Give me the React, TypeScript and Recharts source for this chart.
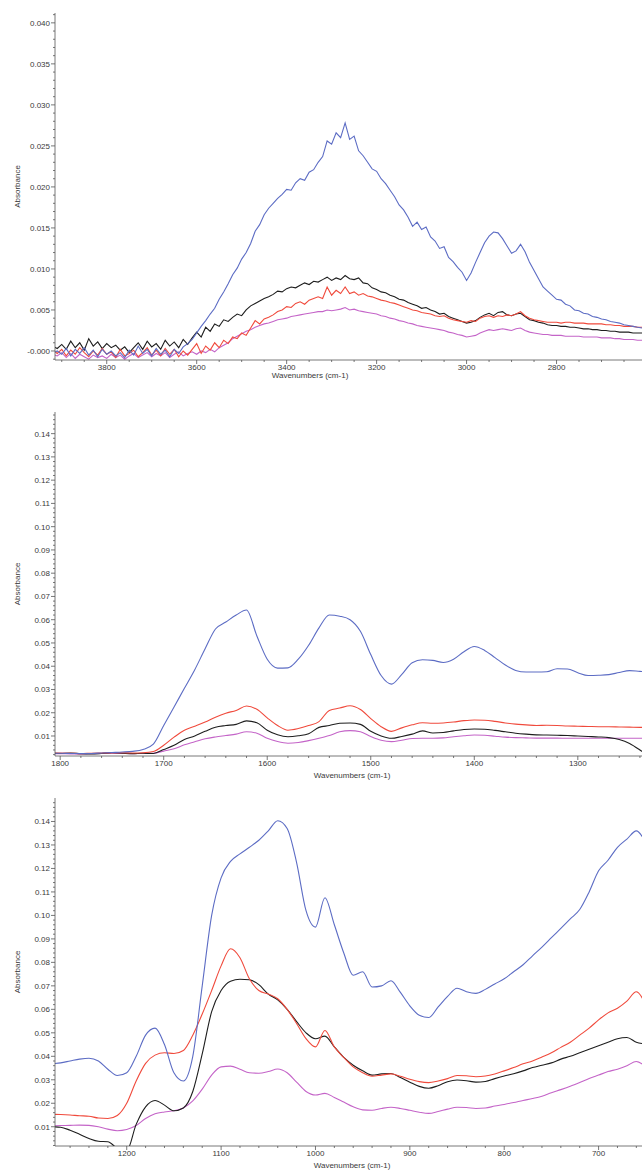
import { LineChart, Line, XAxis, YAxis } from "recharts";

// ---------- panel 1: O-H / C-H region, 3920 -> 2610 cm-1, every 10 ----------
const ohStart = 3920;
const ohStep = 10;
const ohBlue = [
  -0.0003,
  0.0000,-0.0004,0.0003,-0.0006,0.0002,-0.0003,0.0004,-0.0005,0.0001,-0.0007,
  0.0002,-0.0004,0.0000,-0.0006,-0.0002,-0.0008,0.0001,-0.0005,0.0006,-0.0003,
  0.0002,-0.0006,0.0003,-0.0004,0.0001,-0.0007,0.0002,-0.0003,0.0005,0.0009,
  0.0014,0.0022,0.0030,0.0037,0.0045,0.0052,0.0063,0.0072,0.0082,0.0093,
  0.0101,0.0112,0.0120,0.0131,0.0146,0.0154,0.0166,0.0174,0.0180,0.0186,
  0.0191,0.0197,0.0196,0.0205,0.0210,0.0208,0.0218,0.0221,0.0230,0.0237,
  0.0256,0.0252,0.0266,0.0260,0.0278,0.0258,0.0262,0.0244,0.0238,0.0230,
  0.0222,0.0219,0.0210,0.0204,0.0196,0.0188,0.0178,0.0172,0.0163,0.0152,
  0.0157,0.0148,0.0151,0.0139,0.0134,0.0125,0.0127,0.0114,0.0109,0.0102,
  0.0096,0.0086,0.0095,0.0108,0.0120,0.0132,0.0140,0.0145,0.0144,0.0137,
  0.0128,0.0119,0.0122,0.0130,0.0121,0.0108,0.0098,0.0088,0.0078,0.0073,
  0.0068,0.0063,0.0062,0.0057,0.0055,0.0050,0.0049,0.0046,0.0045,0.0042,
  0.0041,0.0039,0.0038,0.0036,0.0035,0.0034,0.0032,0.0031,0.0030,0.0029,
  0.0028,
];
const ohBlack = [
  0.0006,
  0.0003,0.0008,0.0002,0.0012,0.0004,0.0010,0.0001,0.0015,0.0006,0.0011,
  0.0003,0.0009,0.0004,0.0007,0.0001,0.0005,-0.0002,0.0004,0.0010,0.0002,
  0.0012,0.0005,0.0009,0.0002,0.0013,0.0006,0.0011,0.0004,0.0014,0.0008,
  0.0016,0.0023,0.0017,0.0029,0.0024,0.0033,0.0030,0.0038,0.0036,0.0041,
  0.0045,0.0043,0.0050,0.0055,0.0058,0.0061,0.0064,0.0066,0.0069,0.0073,
  0.0072,0.0076,0.0078,0.0077,0.0080,0.0083,0.0081,0.0085,0.0084,0.0087,
  0.0090,0.0086,0.0089,0.0087,0.0092,0.0088,0.0087,0.0089,0.0083,0.0082,
  0.0077,0.0075,0.0072,0.0071,0.0068,0.0066,0.0063,0.0062,0.0059,0.0057,
  0.0055,0.0052,0.0053,0.0050,0.0048,0.0045,0.0046,0.0042,0.0040,0.0038,
  0.0036,0.0034,0.0035,0.0037,0.0041,0.0044,0.0046,0.0043,0.0047,0.0048,
  0.0044,0.0043,0.0045,0.0046,0.0042,0.0038,0.0037,0.0035,0.0034,0.0032,
  0.0031,0.0031,0.0030,0.0030,0.0029,0.0029,0.0028,0.0027,0.0027,0.0026,
  0.0026,0.0025,0.0025,0.0024,0.0024,0.0023,0.0023,0.0023,0.0022,0.0022,
  0.0022,
];
const ohRed = [
  0.0001,
  -0.0003,0.0002,-0.0006,0.0001,-0.0004,0.0004,-0.0002,-0.0007,0.0000,-0.0005,
  0.0003,-0.0004,-0.0001,-0.0008,0.0002,-0.0006,-0.0003,0.0001,-0.0007,-0.0002,
  0.0004,-0.0005,0.0001,-0.0006,0.0003,-0.0004,0.0002,-0.0007,0.0000,-0.0005,
  0.0002,0.0009,-0.0003,0.0006,0.0001,0.0010,0.0004,0.0013,0.0009,0.0017,
  0.0015,0.0022,0.0019,0.0028,0.0037,0.0033,0.0039,0.0041,0.0044,0.0048,
  0.0050,0.0054,0.0053,0.0058,0.0060,0.0057,0.0062,0.0064,0.0066,0.0064,
  0.0078,0.0068,0.0074,0.0070,0.0078,0.0070,0.0072,0.0068,0.0070,0.0067,
  0.0066,0.0064,0.0062,0.0061,0.0059,0.0058,0.0056,0.0054,0.0052,0.0050,
  0.0049,0.0047,0.0046,0.0045,0.0043,0.0042,0.0043,0.0040,0.0038,0.0037,
  0.0036,0.0035,0.0037,0.0036,0.0040,0.0042,0.0043,0.0041,0.0043,0.0042,
  0.0044,0.0043,0.0045,0.0048,0.0043,0.0040,0.0038,0.0037,0.0036,0.0035,
  0.0035,0.0035,0.0034,0.0035,0.0035,0.0034,0.0034,0.0034,0.0033,0.0033,
  0.0033,0.0033,0.0032,0.0032,0.0031,0.0031,0.0030,0.0030,0.0030,0.0029,
  0.0029,
];
const ohViolet = [
  -0.0004,
  -0.0006,-0.0002,-0.0008,-0.0003,-0.0009,-0.0004,-0.0007,-0.0010,-0.0005,-0.0008,
  -0.0006,-0.0009,-0.0004,-0.0008,-0.0005,-0.0010,-0.0006,-0.0003,-0.0008,-0.0005,
  -0.0002,-0.0007,-0.0003,-0.0006,-0.0002,-0.0008,-0.0004,-0.0001,-0.0006,-0.0003,
  -0.0001,-0.0004,0.0000,-0.0002,0.0002,-0.0001,0.0004,0.0007,0.0010,0.0015,
  0.0018,0.0021,0.0024,0.0026,0.0029,0.0031,0.0033,0.0034,0.0036,0.0038,
  0.0039,0.0040,0.0042,0.0043,0.0044,0.0045,0.0046,0.0047,0.0048,0.0048,
  0.0050,0.0049,0.0050,0.0051,0.0053,0.0050,0.0051,0.0049,0.0048,0.0047,
  0.0046,0.0045,0.0043,0.0042,0.0040,0.0039,0.0037,0.0036,0.0034,0.0033,
  0.0031,0.0030,0.0029,0.0028,0.0027,0.0026,0.0025,0.0023,0.0022,0.0020,
  0.0019,0.0017,0.0018,0.0019,0.0022,0.0024,0.0026,0.0025,0.0026,0.0027,
  0.0026,0.0025,0.0027,0.0028,0.0025,0.0023,0.0022,0.0021,0.0020,0.0020,
  0.0019,0.0019,0.0019,0.0018,0.0018,0.0018,0.0018,0.0017,0.0017,0.0017,
  0.0017,0.0016,0.0016,0.0016,0.0015,0.0015,0.0014,0.0014,0.0014,0.0013,
  0.0013,
];
const ohXLabels = [3800, 3600, 3400, 3200, 3000, 2800];

// ---------- panel 2: amide region, 1810 -> 1230 cm-1, every 10 ----------
const amStart = 1810;
const amStep = 10;
const amBlue = [
  0.0025,
  0.0026,0.0025,0.0024,0.0025,0.0027,0.0029,0.0031,0.0034,0.0042,0.0065,
  0.0145,0.0225,0.0305,0.0385,0.0475,0.0560,0.0590,0.0620,0.0642,0.0530,
  0.0430,0.0392,0.0393,0.0430,0.0490,0.0565,0.0620,0.0615,0.0600,0.0550,
  0.0450,0.0360,0.0323,0.0365,0.0415,0.0428,0.0425,0.0416,0.0430,0.0462,
  0.0485,0.0468,0.0437,0.0405,0.0382,0.0375,0.0375,0.0376,0.0389,0.0388,
  0.0372,0.0360,0.0361,0.0364,0.0373,0.0381,0.0378,0.0376,
];
const amRed = [
  0.0026,
  0.0027,0.0026,0.0024,0.0026,0.0027,0.0028,0.0028,0.0027,0.0028,0.0033,
  0.0060,0.0095,0.0125,0.0142,0.0160,0.0181,0.0198,0.0210,0.0229,0.0215,
  0.0178,0.0145,0.0125,0.0132,0.0145,0.0162,0.0210,0.0220,0.0230,0.0214,
  0.0175,0.0140,0.0120,0.0135,0.0148,0.0157,0.0155,0.0156,0.0160,0.0166,
  0.0169,0.0168,0.0163,0.0156,0.0151,0.0148,0.0145,0.0146,0.0145,0.0143,
  0.0142,0.0141,0.0140,0.0140,0.0139,0.0138,0.0137,0.0137,
];
const amBlack = [
  0.0026,
  0.0025,0.0027,0.0024,0.0023,0.0025,0.0028,0.0026,0.0024,0.0026,0.0025,
  0.0042,0.0060,0.0085,0.0100,0.0120,0.0138,0.0145,0.0150,0.0165,0.0157,
  0.0125,0.0105,0.0097,0.0101,0.0110,0.0137,0.0145,0.0155,0.0156,0.0150,
  0.0120,0.0100,0.0090,0.0098,0.0108,0.0122,0.0113,0.0115,0.0122,0.0128,
  0.0130,0.0129,0.0124,0.0118,0.0112,0.0108,0.0105,0.0104,0.0103,0.0102,
  0.0100,0.0098,0.0096,0.0093,0.0085,0.0068,0.0040,0.0008,
];
const amViolet = [
  0.0024,
  0.0024,0.0023,0.0023,0.0024,0.0025,0.0026,0.0025,0.0024,0.0025,0.0026,
  0.0035,0.0045,0.0062,0.0075,0.0088,0.0096,0.0102,0.0108,0.0118,0.0112,
  0.0090,0.0076,0.0069,0.0072,0.0080,0.0090,0.0102,0.0118,0.0123,0.0118,
  0.0098,0.0082,0.0076,0.0082,0.0089,0.0090,0.0090,0.0092,0.0097,0.0101,
  0.0104,0.0103,0.0099,0.0095,0.0093,0.0092,0.0091,0.0091,0.0091,0.0090,
  0.0090,0.0090,0.0090,0.0090,0.0090,0.0090,0.0090,0.0090,
];
const amXLabels = [1800, 1700, 1600, 1500, 1400, 1300];

// ---------- panel 3: fingerprint region, 1280 -> 650 cm-1, every 10 ----------
const fpStart = 1280;
const fpStep = 10;
const fpBlue = [
  0.0368,0.0372,0.0380,0.0388,0.0392,0.0380,0.0345,0.0318,0.0330,0.0400,
  0.0490,0.0520,0.0450,0.0330,0.0295,0.0400,0.0700,0.1000,0.1160,0.1230,
  0.1262,0.1290,0.1320,0.1360,0.1403,0.1370,0.1225,0.1020,0.0950,0.1075,
  0.0960,0.0840,0.0745,0.0760,0.0695,0.0700,0.0722,0.0672,0.0615,0.0575,
  0.0565,0.0610,0.0655,0.0690,0.0675,0.0668,0.0685,0.0708,0.0730,0.0760,
  0.0790,0.0828,0.0865,0.0905,0.0945,0.0985,0.1025,0.1100,0.1190,0.1235,
  0.1290,0.1325,0.1360,0.1310,
];
const fpRed = [
  0.0153,0.0152,0.0150,0.0147,0.0145,0.0137,0.0135,0.0148,0.0200,0.0295,
  0.0370,0.0405,0.0415,0.0412,0.0425,0.0490,0.0580,0.0680,0.0785,0.0858,
  0.0820,0.0730,0.0680,0.0665,0.0645,0.0600,0.0540,0.0475,0.0440,0.0510,
  0.0440,0.0395,0.0355,0.0330,0.0315,0.0320,0.0325,0.0315,0.0302,0.0292,
  0.0288,0.0295,0.0305,0.0318,0.0317,0.0313,0.0316,0.0325,0.0338,0.0352,
  0.0368,0.0380,0.0397,0.0415,0.0438,0.0460,0.0490,0.0520,0.0555,0.0585,
  0.0605,0.0635,0.0675,0.0620,
];
const fpBlack = [
  0.0100,0.0098,0.0085,0.0068,0.0050,0.0038,0.0036,0.0008,-0.0002,0.0110,
  0.0185,0.0212,0.0192,0.0168,0.0180,0.0250,0.0410,0.0590,0.0680,0.0720,
  0.0728,0.0726,0.0705,0.0665,0.0640,0.0600,0.0548,0.0500,0.0475,0.0486,
  0.0440,0.0395,0.0362,0.0338,0.0320,0.0325,0.0327,0.0310,0.0290,0.0272,
  0.0264,0.0275,0.0292,0.0299,0.0296,0.0290,0.0293,0.0305,0.0316,0.0326,
  0.0338,0.0352,0.0362,0.0372,0.0388,0.0400,0.0415,0.0430,0.0445,0.0460,
  0.0475,0.0480,0.0460,0.0452,
];
const fpViolet = [
  0.0104,0.0105,0.0106,0.0107,0.0106,0.0100,0.0090,0.0083,0.0088,0.0105,
  0.0135,0.0155,0.0163,0.0168,0.0180,0.0210,0.0260,0.0320,0.0355,0.0358,
  0.0345,0.0330,0.0328,0.0335,0.0346,0.0330,0.0290,0.0250,0.0235,0.0242,
  0.0225,0.0205,0.0185,0.0172,0.0170,0.0178,0.0183,0.0178,0.0170,0.0162,
  0.0157,0.0165,0.0175,0.0183,0.0182,0.0178,0.0180,0.0188,0.0195,0.0203,
  0.0212,0.0220,0.0230,0.0245,0.0258,0.0272,0.0288,0.0305,0.0320,0.0335,
  0.0345,0.0360,0.0378,0.0355,
];
const fpXLabels = [1200, 1100, 1000, 900, 800, 700];

const BLUE = "#5c6cc4";
const RED = "#f04a3c";
const BLACK = "#1e1e1e";
const VIOLET = "#c464c8";
const AXIS = "#555";
const TEXT = "#3a3a3a";
const FONT = "'Liberation Sans', Arial, sans-serif";

const buildRows = (start: number, step: number, blue: number[], red: number[], black: number[], violet: number[]) =>
  blue.map((b, i) => ({ wn: start - i * step, blue: b, red: red[i], black: black[i], violet: violet[i] }));

const range = (from: number, to: number, step: number) => {
  const out: number[] = [];
  for (let v = from; step > 0 ? v <= to : v >= to; v += step) out.push(v);
  return out;
};

const XTick = ({ x, y, payload, majors }: any) => {
  const major = majors.includes(payload.value);
  return (
    <g>
      <line x1={x} x2={x} y1={y} y2={y + (major ? 4 : 2)} stroke={AXIS} strokeWidth={0.8} />
      {major && (
        <text x={x} y={y + 10} textAnchor="middle" fontSize={8} fill={TEXT} fontFamily={FONT}>
          {payload.value}
        </text>
      )}
    </g>
  );
};

const YTick = ({ x, y, payload, every, digits, zeroText }: any) => {
  const milli = Math.round(payload.value * 1000);
  const major = milli % every === 0;
  const label = milli === 0 && zeroText ? zeroText : payload.value.toFixed(digits);
  return (
    <g>
      <line x1={x - (major ? 4 : 2)} x2={x} y1={y} y2={y} stroke={AXIS} strokeWidth={0.8} />
      {major && (
        <text x={x - 5} y={y + 3} textAnchor="end" fontSize={8} fill={TEXT} fontFamily={FONT}>
          {label}
        </text>
      )}
    </g>
  );
};

type PanelProps = {
  rows: any[];
  height: number;
  top: number;
  axisHeight: number;
  xDomain: [number, number];
  xTicks: number[];
  xLabels: number[];
  yDomain: [number, number];
  yTicks: number[];
  yEvery: number;
  yDigits: number;
  zeroText?: string;
  titleX: number;
  titleDy: number;
  curve: "linear" | "monotone";
};

const Panel = (p: PanelProps) => (
  <LineChart
    width={642}
    height={p.height}
    data={p.rows}
    margin={{ top: p.top, right: 0, bottom: 0, left: 0 }}
    style={{ display: "block" }}
  >
    <XAxis
      type="number"
      dataKey="wn"
      domain={p.xDomain}
      reversed
      allowDataOverflow
      ticks={p.xTicks}
      interval={0}
      height={p.axisHeight}
      tickSize={0}
      tickMargin={0}
      tickLine={false}
      axisLine={{ stroke: AXIS, strokeWidth: 0.8 }}
      tick={(t: any) => <XTick {...t} majors={p.xLabels} />}
      label={(lp: any) => {
        const vb = lp.viewBox || { y: 0 };
        return (
          <text x={p.titleX} y={vb.y + p.titleDy} textAnchor="middle" fontSize={8} fill={TEXT} fontFamily={FONT}>
            Wavenumbers (cm-1)
          </text>
        );
      }}
    />
    <YAxis
      type="number"
      domain={p.yDomain}
      allowDataOverflow
      ticks={p.yTicks}
      interval={0}
      width={55}
      tickSize={0}
      tickMargin={0}
      tickLine={false}
      axisLine={{ stroke: AXIS, strokeWidth: 0.8 }}
      tick={(t: any) => <YTick {...t} every={p.yEvery} digits={p.yDigits} zeroText={p.zeroText} />}
      label={(lp: any) => {
        const vb = lp.viewBox || { y: 0, height: 0 };
        const cy = vb.y + vb.height / 2;
        return (
          <text
            x={17}
            y={cy}
            transform={`rotate(-90, 17, ${cy})`}
            textAnchor="middle"
            dominantBaseline="central"
            fontSize={8}
            fill={TEXT}
            fontFamily={FONT}
          >
            Absorbance
          </text>
        );
      }}
    />
    <Line type={p.curve} dataKey="violet" stroke={VIOLET} strokeWidth={1.1} dot={false} isAnimationActive={false} />
    <Line type={p.curve} dataKey="black" stroke={BLACK} strokeWidth={1.1} dot={false} isAnimationActive={false} />
    <Line type={p.curve} dataKey="red" stroke={RED} strokeWidth={1.1} dot={false} isAnimationActive={false} />
    <Line type={p.curve} dataKey="blue" stroke={BLUE} strokeWidth={1.1} dot={false} isAnimationActive={false} />
  </LineChart>
);

export default function App() {
  const ohRows = buildRows(ohStart, ohStep, ohBlue, ohRed, ohBlack, ohViolet);
  const amRows = buildRows(amStart, amStep, amBlue, amRed, amBlack, amViolet);
  const fpRows = buildRows(fpStart, fpStep, fpBlue, fpRed, fpBlack, fpViolet);

  return (
    <div style={{ position: "absolute", left: 0, top: 0, width: 642, height: 1172, background: "#fff", overflow: "hidden" }}>
      <Panel
        rows={ohRows}
        height={385}
        top={13}
        axisHeight={25}
        xDomain={[2610, 3915]}
        xTicks={range(3900, 2650, -50)}
        xLabels={ohXLabels}
        yDomain={[-0.0011, 0.0412]}
        yTicks={range(-1, 41, 1).map((m) => m / 1000)}
        yEvery={5}
        yDigits={3}
        zeroText="-0.000"
        titleX={310}
        titleDy={18}
        curve="linear"
      />
      <Panel
        rows={amRows}
        height={398}
        top={27}
        axisHeight={27}
        xDomain={[1238, 1805]}
        xTicks={range(1800, 1240, -20)}
        xLabels={amXLabels}
        yDomain={[0.0014, 0.1493]}
        yTicks={range(2, 148, 2).map((m) => m / 1000)}
        yEvery={10}
        yDigits={2}
        titleX={352}
        titleDy={22}
        curve="monotone"
      />
      <Panel
        rows={fpRows}
        height={389}
        top={15}
        axisHeight={26}
        xDomain={[654, 1276]}
        xTicks={range(1260, 660, -20)}
        xLabels={fpXLabels}
        yDomain={[0.0018, 0.15]}
        yTicks={range(2, 148, 2).map((m) => m / 1000)}
        yEvery={10}
        yDigits={2}
        titleX={352}
        titleDy={22}
        curve="monotone"
      />
    </div>
  );
}
